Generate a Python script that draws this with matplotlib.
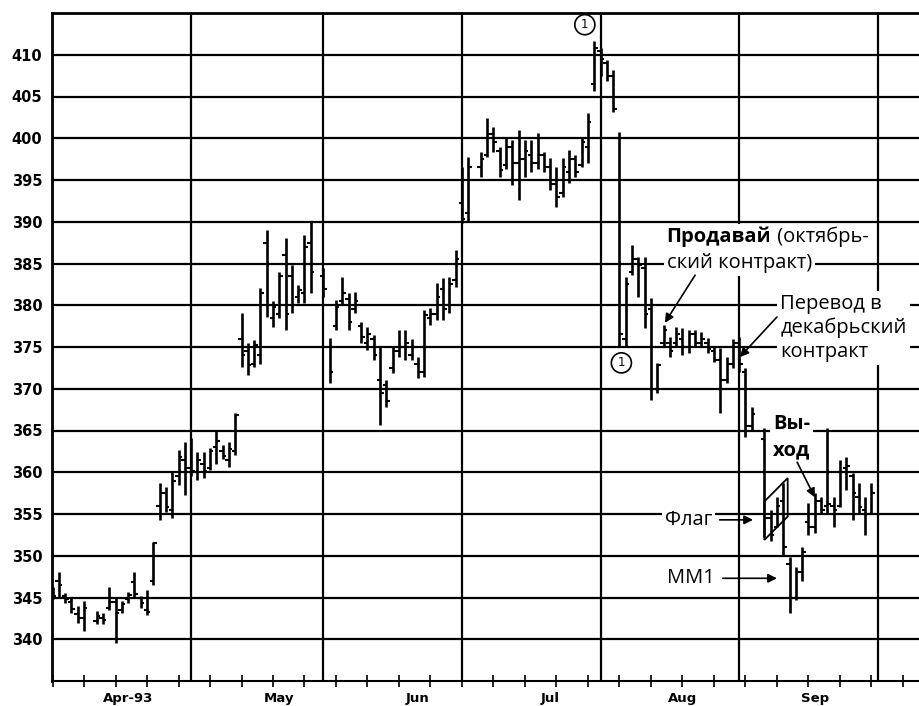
import numpy as np
import pandas as pd
import matplotlib
matplotlib.use('Agg')
import matplotlib.pyplot as plt
from matplotlib.patches import Polygon

nan = np.nan

# weekday axis, Apr 1 - Sep 30 1993; exchange holidays stay empty (nan)
days = pd.bdate_range('1993-04-01', '1993-09-30')

highs = [346.3, 348.0, 345.5, 344.9, 344.0, 344.6, nan, 343.4, 343.2, 346.2,
         345.0, 344.6, 345.6, 348.0, 345.2, 345.9, 351.6, 358.7, 358.2, 360.0,
         362.7, 363.6, 364.1, 362.4, 362.4, 362.9, 365.1, 363.3, 363.6, 367.1,
         379.1, 375.5, 375.8, 382.1, 389.0, 380.5, 384.0, 388.1, 384.8, 382.4,
         388.4, 390.0, nan, 384.5, 376.1, 380.6, 383.4, 381.5, 381.6, 378.0,
         377.4, 376.4, 375.0, 371.0, 375.0, 377.0, 377.0, 376.0, 373.8, 379.4,
         379.7, 382.7, 383.3, 383.4, 386.6, 396.5, 397.8, nan, 398.4, 402.4,
         401.3, 399.0, 400.2, 399.8, 401.0, 399.8, 399.8, 400.6, 398.4, 397.6,
         396.6, 397.6, 398.6, 398.0, 400.0, 403.0, 411.6, 410.8, 409.4, 408.2,
         400.8, 383.4, 387.2, 385.8, 385.8, 380.9, 373.1, 377.6, 376.2, 377.4,
         377.3, 377.0, 377.0, 376.8, 376.1, 375.0, 374.9, 373.8, 376.0, 376.2,
         372.5, 367.8, nan, 365.3, 355.5, 357.0, 358.7, 349.8, 348.6, 351.0,
         356.3, 357.5, 357.0, 365.3, 357.0, 361.5, 361.8, 359.9, 358.7, 357.0,
         358.7]
lows = [344.8, 345.0, 344.4, 343.1, 342.0, 341.0, nan, 341.8, 341.8, 343.5,
        339.5, 343.1, 344.4, 345.0, 343.8, 342.9, 346.5, 354.3, 355.2, 354.5,
        358.5, 357.3, 359.6, 359.1, 359.3, 360.3, 361.0, 361.6, 360.6, 362.1,
        372.6, 371.6, 372.6, 373.0, 378.6, 377.4, 378.5, 377.0, 379.1, 380.3,
        380.3, 381.5, nan, 381.0, 370.7, 377.0, 380.0, 377.0, 379.1, 375.5,
        374.6, 373.4, 365.7, 367.8, 371.9, 373.8, 373.4, 373.4, 371.3, 371.4,
        377.6, 378.2, 378.2, 379.1, 382.2, 389.9, 390.0, nan, 395.4, 397.8,
        398.4, 395.3, 396.3, 394.4, 392.6, 395.4, 395.9, 396.3, 395.9, 393.8,
        391.8, 393.0, 394.7, 395.4, 396.6, 397.0, 405.6, 407.4, 406.8, 403.2,
        375.0, 375.0, 383.6, 381.0, 377.3, 368.6, 369.5, 375.0, 373.8, 375.0,
        374.0, 374.3, 375.0, 375.0, 374.3, 373.2, 367.1, 370.7, 372.5, 372.0,
        364.2, 365.1, nan, 352.2, 351.8, 353.4, 350.1, 343.1, 344.7, 347.0,
        352.5, 352.7, 355.1, 355.1, 353.4, 355.8, 357.9, 354.3, 355.1, 352.5,
        355.1]
opens = [345.8, 347.0, 345.2, 344.5, 343.0, 342.5, nan, 342.2, 342.6, 343.8,
         344.5, 343.5, 344.8, 346.8, 344.9, 343.5, 347.0, 356.0, 357.5, 355.5,
         359.5, 361.5, 360.5, 360.0, 361.0, 360.5, 363.0, 362.5, 361.5, 362.5,
         376.0, 374.5, 373.0, 374.0, 387.5, 378.5, 379.0, 386.0, 383.5, 381.0,
         381.5, 387.5, nan, 383.5, 375.0, 377.5, 380.5, 380.8, 379.5, 377.5,
         375.5, 376.0, 371.0, 370.5, 372.5, 374.5, 375.0, 374.0, 373.0, 372.0,
         378.5, 379.0, 382.0, 380.0, 383.0, 392.3, 391.0, nan, 396.5, 398.0,
         400.5, 398.5, 396.8, 399.0, 397.0, 397.5, 398.0, 397.0, 398.0, 396.5,
         394.5, 393.5, 396.0, 397.5, 396.8, 399.0, 406.5, 410.5, 409.0, 407.5,
         400.0, 376.0, 384.0, 385.5, 384.5, 379.5, 370.0, 375.5, 375.5, 375.5,
         376.0, 375.0, 376.5, 375.5, 375.5, 374.5, 373.5, 371.0, 373.0, 375.5,
         372.0, 365.5, nan, 364.0, 354.5, 353.5, 356.5, 349.0, 345.0, 348.0,
         354.0, 353.5, 356.5, 356.0, 356.0, 356.0, 360.5, 359.5, 357.0, 355.5,
         355.0]
closes = [345.2, 346.5, 344.8, 343.6, 342.6, 343.8, nan, 342.8, 342.3, 344.5,
          343.2, 344.2, 345.3, 345.4, 344.3, 343.3, 351.5, 357.5, 355.8, 359.0,
          361.8, 360.5, 360.2, 361.5, 360.2, 362.5, 363.8, 362.0, 362.8, 366.8,
          374.0, 372.8, 375.2, 381.5, 380.0, 379.8, 383.5, 379.0, 380.0, 381.8,
          387.0, 384.0, nan, 382.0, 372.0, 379.8, 381.5, 378.0, 380.5, 376.2,
          376.5, 374.0, 369.5, 368.5, 374.5, 375.0, 375.5, 375.0, 372.0, 378.8,
          379.0, 381.0, 379.5, 382.5, 385.5, 390.3, 396.5, nan, 397.5, 400.5,
          399.5, 396.2, 399.0, 397.0, 397.5, 398.5, 397.0, 398.0, 396.5, 394.5,
          393.0, 396.5, 397.5, 396.0, 399.5, 402.0, 410.8, 409.5, 407.5, 403.5,
          376.5, 382.5, 385.5, 384.8, 379.0, 370.0, 372.8, 377.0, 374.5, 376.5,
          375.0, 376.5, 375.5, 376.0, 374.8, 373.5, 371.0, 373.0, 375.5, 373.0,
          365.5, 367.0, nan, 354.5, 352.5, 356.0, 351.0, 345.0, 348.0, 350.5,
          353.5, 356.5, 355.5, 356.2, 355.5, 360.0, 360.8, 357.5, 355.8, 355.0,
          357.5]

month_labels = ['Apr-93', 'May', 'Jun', 'Jul', 'Aug', 'Sep']
month_label_pos = [12, 36, 58, 79, 100, 121]
price_ticks = list(range(340, 411, 5))

x = np.arange(len(days))
hi = np.array(highs)
lo = np.array(lows)
op = np.array(opens)
cl = np.array(closes)
ok = ~np.isnan(hi)

month_starts = [i for i in range(1, len(days)) if days[i].month != days[i - 1].month]
month_starts.append(len(days))

fig = plt.figure(figsize=(9.2, 7.06), dpi=100)
ax = fig.add_axes([52 / 920, 1 - 681 / 706, 1 - 52 / 920, 668 / 706])
ax.set_xlim(-0.08, 137.7)
ax.set_ylim(335, 415)

for p in price_ticks:
    ax.axhline(p, color='black', lw=1.6, zorder=1)
for m in month_starts:
    ax.axvline(m, color='black', lw=1.6, zorder=1)

ax.vlines(x[ok], lo[ok], hi[ok], color='black', lw=1.9, zorder=3)
ax.hlines(op[ok], x[ok] - 0.55, x[ok], color='black', lw=1.5, zorder=3)
ax.hlines(cl[ok], x[ok], x[ok] + 0.55, color='black', lw=1.5, zorder=3)

# flag outline
ax.add_patch(Polygon([(113.0, 356.5), (116.7, 359.3), (116.7, 354.7), (113.0, 351.9)],
                     closed=True, fill=False, ec='black', lw=1.3, zorder=4))

for s in ['top', 'left']:
    ax.spines[s].set_linewidth(2)
ax.spines['bottom'].set_linewidth(1.5)
ax.spines['right'].set_visible(False)

ax.set_yticks(price_ticks)
ax.set_yticklabels([str(p) for p in price_ticks], fontsize=10.5, fontweight='bold')
ax.tick_params(axis='y', length=0, pad=7)
ax.xaxis.remove_overlapping_locs = False
ax.set_xticks(np.arange(0, 136, 5))
ax.set_xticklabels([])
ax.tick_params(axis='x', which='major', direction='inout', length=8, width=1.2)
ax.set_xticks(month_label_pos, minor=True)
ax.set_xticklabels(month_labels, minor=True, fontsize=9.5, fontweight='bold')
ax.tick_params(axis='x', which='minor', length=0, pad=8)

fam = ['Open Sans', 'DejaVu Sans']
fs = 14.5
box = dict(boxstyle='square,pad=0.15', fc='white', ec='none')
arrow = dict(arrowstyle='-|>', color='black', lw=1.2, mutation_scale=13,
             shrinkA=0, shrinkB=0)

t1 = ax.text(97.5, 388.2, 'Продавай', family=fam, fontsize=fs, fontweight='bold',
             va='center', ha='left', bbox=box, zorder=5)
ax.annotate(' (октябрь-', xy=(1, 0), xycoords=t1, va='bottom', ha='left',
            family=fam, fontsize=fs, bbox=box, zorder=5)
ax.text(97.5, 385.1, 'ский контракт)', family=fam, fontsize=fs, va='center',
        ha='left', bbox=box, zorder=5)
ax.annotate('', xy=(97.2, 377.9), xytext=(102.0, 383.6), arrowprops=arrow, zorder=6)

ax.text(115.5, 377.3, 'Перевод в\nдекабрьский\nконтракт', family=fam, fontsize=fs,
        va='center', ha='left', linespacing=1.25, bbox=box, zorder=5)
ax.annotate('', xy=(109.1, 373.8), xytext=(115.0, 378.6), arrowprops=arrow, zorder=6)

ax.text(114.4, 364.2, 'Вы-\nход', family=fam, fontsize=fs, fontweight='bold',
        va='center', ha='left', linespacing=1.45, bbox=box, zorder=5)
ax.annotate('', xy=(121.0, 357.0), xytext=(118.2, 361.2), arrowprops=arrow, zorder=6)

ax.text(97.2, 354.3, 'Флаг', family=fam, fontsize=fs, va='center', ha='left',
        bbox=box, zorder=5)
ax.annotate('', xy=(111.2, 354.3), xytext=(105.9, 354.3), arrowprops=arrow, zorder=6)

ax.text(97.5, 347.3, 'ММ1', family=fam, fontsize=fs, va='center', ha='left',
        bbox=box, zorder=5)
ax.annotate('', xy=(115.0, 347.3), xytext=(106.4, 347.3), arrowprops=arrow, zorder=6)

circ = dict(boxstyle='circle,pad=0.3', fc='white', ec='black', lw=1.2)
ax.text(84.5, 413.6, '1', fontsize=8.5, ha='center', va='center', bbox=circ, zorder=6)
ax.text(90.3, 373.1, '1', fontsize=8.5, ha='center', va='center', bbox=circ, zorder=6)

fig.savefig('out.png', dpi=100)
